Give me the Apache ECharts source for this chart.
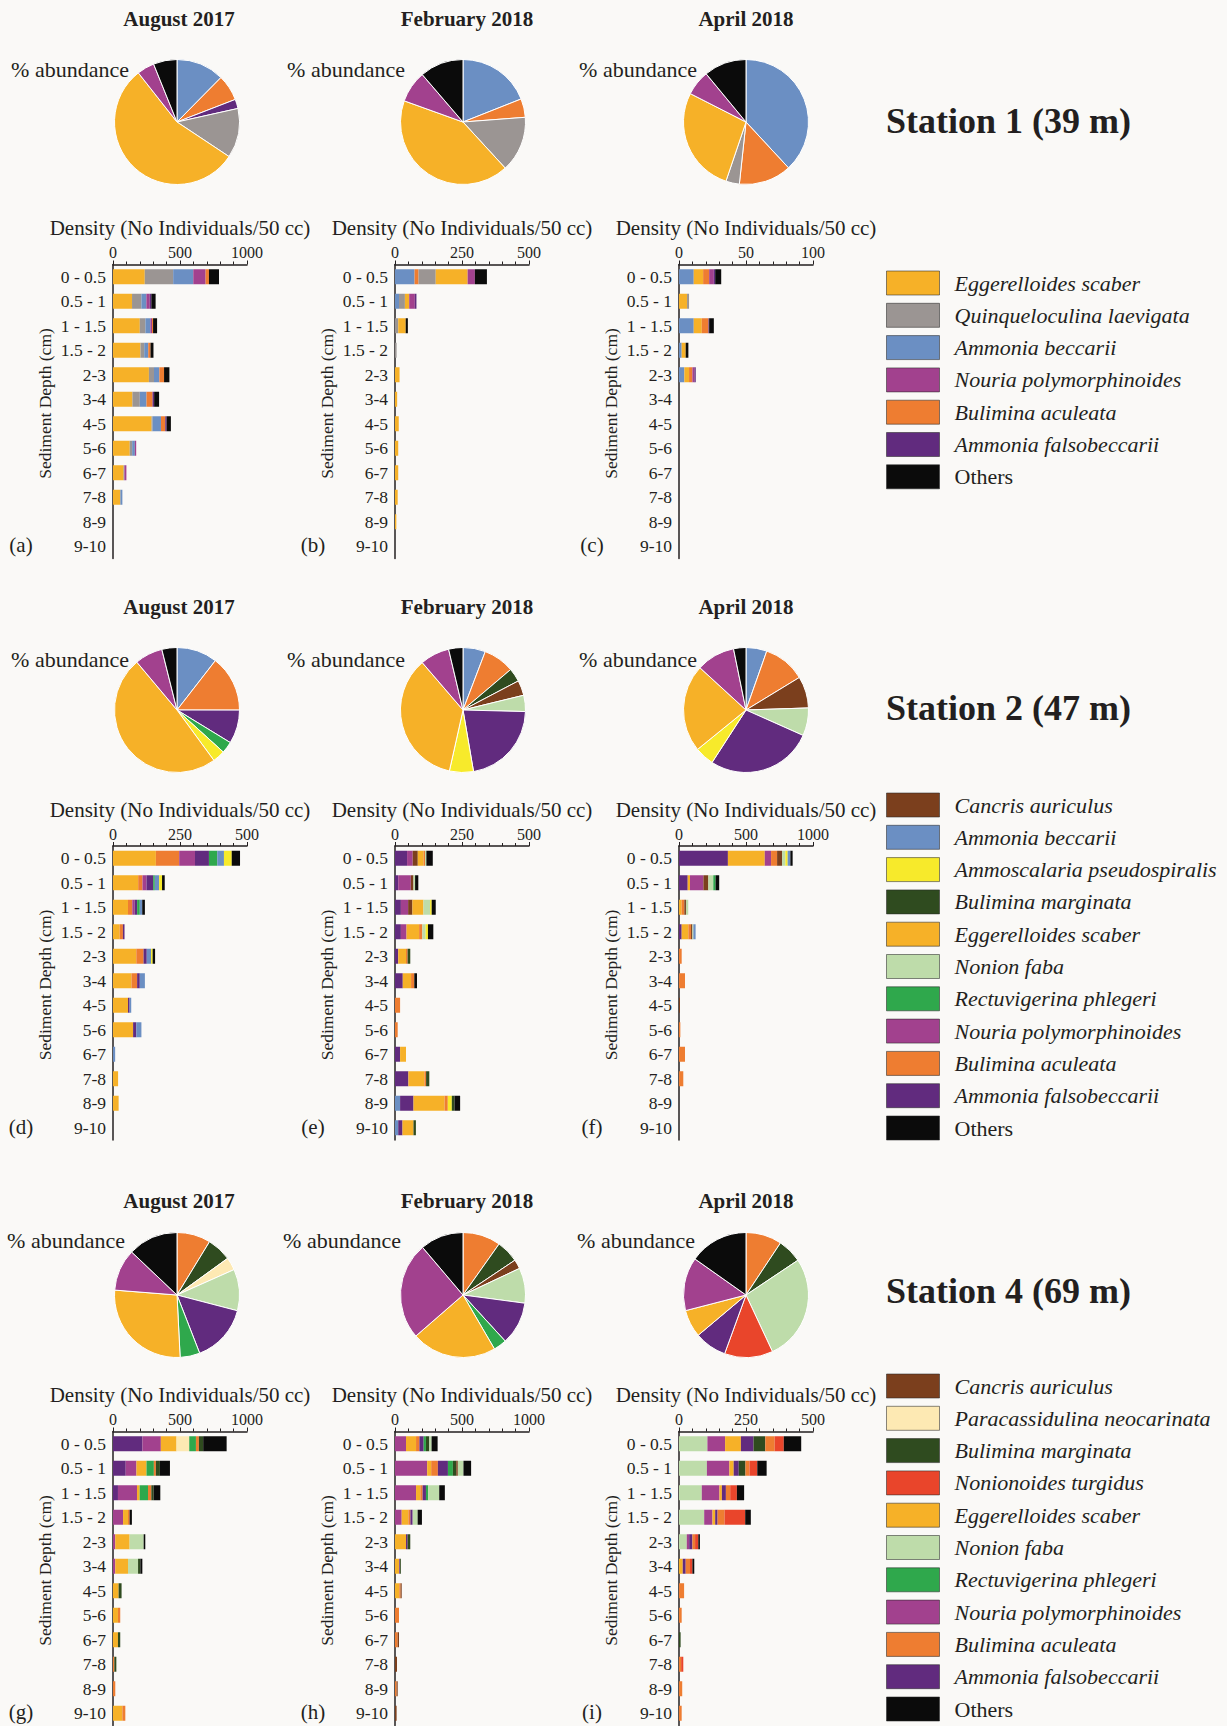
<!DOCTYPE html>
<html>
<head>
<meta charset="utf-8">
<script src="https://cdn.jsdelivr.net/npm/echarts@6/dist/echarts.min.js"></script>
<style>
html,body{margin:0;padding:0;background:#faf9f7;}
#chart{width:1227px;height:1726px;}
</style>
</head>
<body>
<div id="chart"></div>
<script>
// ---------- categories ----------
const depths = ['0 - 0.5','0.5 - 1','1 - 1.5','1.5 - 2','2-3','3-4','4-5','5-6','6-7','7-8','8-9','9-10'];
const months = ['August 2017','February 2018','April 2018'];
const stations = ['Station 1 (39 m)','Station 2 (47 m)','Station 4 (69 m)'];

// ---------- pie data (% abundance, clockwise from top) ----------
const pieA_names = ['Ammonia beccarii','Bulimina aculeata','Ammonia falsobeccarii','Quinqueloculina laevigata','Eggerelloides scaber','Nouria polymorphinoides','Others'];
const pieA_vals  = [12.4,6.7,2.4,12.8,55,4.5,6.1];
const pieB_names = ['Ammonia beccarii','Bulimina aculeata','Quinqueloculina laevigata','Eggerelloides scaber','Nouria polymorphinoides','Others'];
const pieB_vals  = [19,4.8,14.4,42.3,8.2,11.3];
const pieC_names = ['Ammonia beccarii','Bulimina aculeata','Quinqueloculina laevigata','Eggerelloides scaber','Nouria polymorphinoides','Others'];
const pieC_vals  = [38.1,13.6,3.5,27.3,6.5,11];
const pieD_names = ['Ammonia beccarii','Bulimina aculeata','Ammonia falsobeccarii','Rectuvigerina phlegeri','Ammoscalaria pseudospiralis','Eggerelloides scaber','Nouria polymorphinoides','Others'];
const pieD_vals  = [10.5,14.5,8.7,3,3.2,48.9,7.2,3.9];
const pieE_names = ['Ammonia beccarii','Bulimina aculeata','Bulimina marginata','Cancris auriculus','Nonion faba','Ammonia falsobeccarii','Ammoscalaria pseudospiralis','Eggerelloides scaber','Nouria polymorphinoides','Others'];
const pieE_vals  = [5.8,8,3.5,3.9,4.2,21.9,6.2,35.2,7.6,3.7];
const pieF_names = ['Ammonia beccarii','Bulimina aculeata','Cancris auriculus','Nonion faba','Ammonia falsobeccarii','Ammoscalaria pseudospiralis','Eggerelloides scaber','Nouria polymorphinoides','Others'];
const pieF_vals  = [5.4,10.9,8.2,7.2,27.5,5,22.7,10,3.2];
const pieG_names = ['Bulimina aculeata','Bulimina marginata','Paracassidulina neocarinata','Nonion faba','Ammonia falsobeccarii','Rectuvigerina phlegeri','Eggerelloides scaber','Nouria polymorphinoides','Others'];
const pieG_vals  = [8.7,6.3,3.3,10.7,15,5.1,27,10.8,12.9];
const pieH_names = ['Bulimina aculeata','Bulimina marginata','Cancris auriculus','Nonion faba','Ammonia falsobeccarii','Rectuvigerina phlegeri','Eggerelloides scaber','Nouria polymorphinoides','Others'];
const pieH_vals  = [9.8,5.8,2.4,9.1,11.1,3.4,22,25.2,11.2];
const pieI_names = ['Bulimina aculeata','Bulimina marginata','Nonion faba','Nonionoides turgidus','Ammonia falsobeccarii','Eggerelloides scaber','Nouria polymorphinoides','Others'];
const pieI_vals  = [9.3,6.3,27.4,12.5,8.3,7.1,13.8,15.2];

// ---------- bar data (No individuals / 50 cc), one value per depth ----------
// (a) Station 1, August 2017
const aEgg  = [237,142,200,205,268,145,288,125,80,55,0,0];
const aQuin = [212,70,42,28,38,55,8,18,0,0,0,0];
const aAbec = [150,37,37,30,40,50,62,20,5,15,0,0];
const aNour = [92,25,12,0,0,0,0,10,15,0,0,0];
const aBacu = [25,0,8,17,35,45,32,0,0,0,0,0];
const aAfal = [0,12,0,0,0,12,10,0,0,0,0,0];
const aOth  = [75,32,30,22,40,37,32,0,0,0,0,0];
// (b) Station 1, February 2018
const bAbec = [73,15,0,0,0,0,0,0,0,0,0,0];
const bBacu = [15,0,0,0,0,0,0,0,0,0,0,0];
const bQuin = [64,22,12,6,0,0,0,0,0,0,0,0];
const bEgg  = [119,16,28,0,17,8,14,12,12,10,5,0];
const bNour = [27,21,0,0,0,0,0,0,0,0,0,0];
const bAfal = [0,6,0,0,0,0,0,0,0,0,0,0];
const bOth  = [45,0,8,0,0,0,0,0,0,0,0,0];
// (c) Station 1, April 2018
const cAbec = [11,0,11,2,4,0,0,0,0,0,0,0];
const cEgg  = [7,6,6,3,3.5,0,0,0,0,0,0,0];
const cQuin = [0,1.5,0,0,0,0,0,0,0,0,0,0];
const cBacu = [4.5,0,5,0,2.5,0,0,0,0,0,0,0];
const cNour = [3.5,0,0,0,1.5,0,0,0,0,0,0,0];
const cAfal = [1,0,0.5,0,1,0,0,0,0,0,0,0];
const cOth  = [4.5,0,3.5,2,0,0,0,0,0,0,0,0];
// (d) Station 2, August 2017
const dEgg  = [160,94,56,25,87,69,56,75,0,19,21,0];
const dBacu = [87,16,16,12,27,21,0,0,0,0,0,0];
const dNour = [59,15,9,0,0,0,0,0,0,0,0,0];
const dAfal = [52,25,9,6,12,10,6,12,0,0,0,0];
const dRect = [31,6,10,0,0,0,0,0,0,0,0,0];
const dAbec = [25,16,9,0,16,19,6,19,8,0,0,0];
const dAmmo = [29,11,0,0,6,0,0,0,0,0,0,0];
const dOth  = [31,10,10,0,9,0,0,0,0,0,0,0];
// (e) Station 2, February 2018
const eAbec = [0,0,0,0,0,0,0,0,0,0,19,12];
const eAfal = [45,12,22,22,12,29,0,0,19,50,50,16];
const eNour = [21,47,27,21,0,0,0,0,0,0,0,0];
const eCanc = [19,10,16,0,0,0,0,0,0,0,0,0];
const eEgg  = [22,0,41,47,29,31,0,0,22,60,116,41];
const eBacu = [5,0,0,12,6,12,19,10,0,6,12,0];
const eNfab = [5,6,25,12,0,0,0,0,0,0,0,0];
const eAmmo = [0,0,6,9,0,0,0,0,0,0,15,0];
const eBmar = [0,0,0,0,10,0,0,0,0,12,10,9];
const eOth  = [24,12,15,20,0,10,0,0,0,0,21,0];
// (f) Station 2, April 2018
const fAfal = [365,65,0,20,0,0,0,0,0,0,0,0];
const fEgg  = [275,17,20,50,0,0,0,0,0,0,0,0];
const fNour = [47,100,0,0,0,0,0,0,0,0,0,0];
const fBacu = [45,0,20,20,20,45,0,10,45,32,0,0];
const fCanc = [37,37,12,10,0,0,7,0,0,0,0,0];
const fNfab = [25,37,17,7,0,0,0,0,0,0,0,0];
const fRect = [0,17,0,0,0,0,0,0,0,0,0,0];
const fAmmo = [17,0,0,0,0,0,0,0,0,0,0,0];
const fAbec = [20,0,0,17,0,0,0,0,0,0,0,0];
const fOth  = [17,27,0,0,0,0,0,0,0,0,0,0];
// (g) Station 4, August 2017
const gAfal = [220,95,37,0,0,0,0,0,0,0,0,0];
const gNour = [137,80,142,75,17,17,0,0,0,0,0,0];
const gEgg  = [117,75,20,37,107,95,42,37,37,0,0,70];
const gPara = [95,0,0,0,0,0,0,0,0,0,0,0];
const gNfab = [0,0,0,0,105,75,0,0,0,0,0,0];
const gRect = [50,55,62,0,0,0,0,0,0,0,0,0];
const gBacu = [22,15,25,12,0,0,0,17,0,10,17,22];
const gBmar = [32,30,17,0,0,17,22,0,17,15,0,0];
const gOth  = [175,75,50,17,12,15,0,0,0,0,0,0];
// (h) Station 4, February 2018
const hNour = [82,240,157,50,0,0,0,0,0,0,0,0];
const hEgg  = [75,30,32,50,82,32,32,0,0,0,0,0];
const hBacu = [25,50,17,15,0,0,10,30,20,0,12,0];
const hAfal = [32,75,25,17,12,6,0,0,0,0,0,0];
const hRect = [17,37,17,0,0,0,0,0,0,0,0,0];
const hBmar = [25,25,0,0,20,6,0,0,0,0,0,0];
const hCanc = [0,12,0,0,0,0,8,0,10,15,8,12];
const hNfab = [17,42,82,37,0,0,0,0,0,0,0,0];
const hOth  = [45,57,42,32,0,0,0,0,0,0,0,0];
// (i) Station 4, April 2018
const iNfab = [106,104,85,94,29,0,0,0,0,0,0,0];
const iNour = [66,84,66,31,9,0,0,0,0,0,0,0];
const iEgg  = [59,16,9,10,0,14,0,0,0,0,0,0];
const iAfal = [47,19,15,9,12,11,0,0,0,0,0,0];
const iBmar = [44,25,0,0,0,0,0,0,6,0,0,0];
const iBacu = [35,15,16,26,10,16,19,10,0,8,12,10];
const iNtur = [34,29,25,77,12,9,0,0,0,8,0,0];
const iOth  = [65,35,27,21,6,7,0,0,0,0,0,0];

// axis maxima per panel
const axisMax = [1000,500,100, 500,500,1000, 1000,1000,500];

// legend lists
const legend1 = ['Eggerelloides scaber','Quinqueloculina laevigata','Ammonia beccarii','Nouria polymorphinoides','Bulimina aculeata','Ammonia falsobeccarii','Others'];
const legend2 = ['Cancris auriculus','Ammonia beccarii','Ammoscalaria pseudospiralis','Bulimina marginata','Eggerelloides scaber','Nonion faba','Rectuvigerina phlegeri','Nouria polymorphinoides','Bulimina aculeata','Ammonia falsobeccarii','Others'];
const legend3 = ['Cancris auriculus','Paracassidulina neocarinata','Bulimina marginata','Nonionoides turgidus','Eggerelloides scaber','Nonion faba','Rectuvigerina phlegeri','Nouria polymorphinoides','Bulimina aculeata','Ammonia falsobeccarii','Others'];

// ---------- styles ----------
const COLORS = {
  'Eggerelloides scaber':'#f6b128',
  'Quinqueloculina laevigata':'#9b9593',
  'Ammonia beccarii':'#6b8fc3',
  'Nouria polymorphinoides':'#a2418e',
  'Bulimina aculeata':'#ee7d31',
  'Ammonia falsobeccarii':'#612b7e',
  'Others':'#0b0b0b',
  'Cancris auriculus':'#7b3f1d',
  'Ammoscalaria pseudospiralis':'#f7ea2b',
  'Bulimina marginata':'#2f4b1f',
  'Nonion faba':'#bedcaa',
  'Rectuvigerina phlegeri':'#2fa84c',
  'Paracassidulina neocarinata':'#fde9b3',
  'Nonionoides turgidus':'#e9452b'
};
const FONT = '"Liberation Serif","Times New Roman",serif';
const INK = '#231f20';

const panels = [
  [['Eggerelloides scaber',aEgg],['Quinqueloculina laevigata',aQuin],['Ammonia beccarii',aAbec],['Nouria polymorphinoides',aNour],['Bulimina aculeata',aBacu],['Ammonia falsobeccarii',aAfal],['Others',aOth]],
  [['Ammonia beccarii',bAbec],['Bulimina aculeata',bBacu],['Quinqueloculina laevigata',bQuin],['Eggerelloides scaber',bEgg],['Nouria polymorphinoides',bNour],['Ammonia falsobeccarii',bAfal],['Others',bOth]],
  [['Ammonia beccarii',cAbec],['Eggerelloides scaber',cEgg],['Quinqueloculina laevigata',cQuin],['Bulimina aculeata',cBacu],['Nouria polymorphinoides',cNour],['Ammonia falsobeccarii',cAfal],['Others',cOth]],
  [['Eggerelloides scaber',dEgg],['Bulimina aculeata',dBacu],['Nouria polymorphinoides',dNour],['Ammonia falsobeccarii',dAfal],['Rectuvigerina phlegeri',dRect],['Ammonia beccarii',dAbec],['Ammoscalaria pseudospiralis',dAmmo],['Others',dOth]],
  [['Ammonia beccarii',eAbec],['Ammonia falsobeccarii',eAfal],['Nouria polymorphinoides',eNour],['Cancris auriculus',eCanc],['Eggerelloides scaber',eEgg],['Bulimina aculeata',eBacu],['Nonion faba',eNfab],['Ammoscalaria pseudospiralis',eAmmo],['Bulimina marginata',eBmar],['Others',eOth]],
  [['Ammonia falsobeccarii',fAfal],['Eggerelloides scaber',fEgg],['Nouria polymorphinoides',fNour],['Bulimina aculeata',fBacu],['Cancris auriculus',fCanc],['Nonion faba',fNfab],['Rectuvigerina phlegeri',fRect],['Ammoscalaria pseudospiralis',fAmmo],['Ammonia beccarii',fAbec],['Others',fOth]],
  [['Ammonia falsobeccarii',gAfal],['Nouria polymorphinoides',gNour],['Eggerelloides scaber',gEgg],['Paracassidulina neocarinata',gPara],['Nonion faba',gNfab],['Rectuvigerina phlegeri',gRect],['Bulimina aculeata',gBacu],['Bulimina marginata',gBmar],['Others',gOth]],
  [['Nouria polymorphinoides',hNour],['Eggerelloides scaber',hEgg],['Bulimina aculeata',hBacu],['Ammonia falsobeccarii',hAfal],['Rectuvigerina phlegeri',hRect],['Bulimina marginata',hBmar],['Cancris auriculus',hCanc],['Nonion faba',hNfab],['Others',hOth]],
  [['Nonion faba',iNfab],['Nouria polymorphinoides',iNour],['Eggerelloides scaber',iEgg],['Ammonia falsobeccarii',iAfal],['Bulimina marginata',iBmar],['Bulimina aculeata',iBacu],['Nonionoides turgidus',iNtur],['Others',iOth]]
];
const pies = [
  [pieA_names,pieA_vals],[pieB_names,pieB_vals],[pieC_names,pieC_vals],
  [pieD_names,pieD_vals],[pieE_names,pieE_vals],[pieF_names,pieF_vals],
  [pieG_names,pieG_vals],[pieH_names,pieH_vals],[pieI_names,pieI_vals]
];

// ---------- layout ----------
const colLeft = [113, 395, 679];
const gridW = 134;
const rowTop = [264.5, 846, 1431.5];
const gridH = 294;
const pieCX = [177, 463, 746];
const pieCY = [122, 710, 1295];
const pieR = 62.5;
const monthY = [19, 607, 1201];
const monthX = [179, 467, 746];
const abundY = [69, 659, 1240];
const abundRight = [[129,405,697],[129,405,697],[125,401,695]];
const stationY = [121, 708, 1291];
const legendTop = [270.5, 792.5, 1373.5];
const panelLabelX = [21, 313, 592];
const panelLabelY = [545, 1127, 1712];
const letters = ['a','b','c','d','e','f','g','h','i'];

const grids = [], xAxes = [], yAxes = [], series = [], graphic = [];

for (let p = 0; p < 9; p++) {
  const r = Math.floor(p / 3), c = p % 3;
  grids.push({left: colLeft[c], top: rowTop[r], width: gridW, height: gridH, containLabel: false});
  xAxes.push({
    gridIndex: p, type: 'value', position: 'top', min: 0, max: axisMax[p], interval: axisMax[p] / 2,
    name: 'Density (No Individuals/50 cc)', nameLocation: 'middle', nameGap: 26,
    nameTextStyle: {fontFamily: FONT, fontSize: 21, color: INK},
    axisLine: {show: true, lineStyle: {color: INK, width: 1.5}},
    axisTick: {show: true, length: 4, lineStyle: {color: INK, width: 1}},
    minorTick: {show: true, splitNumber: 5, length: 3, lineStyle: {color: INK, width: 1}},
    splitLine: {show: false},
    axisLabel: {fontFamily: FONT, fontSize: 16, color: INK, margin: 4, formatter: v => String(v)}
  });
  yAxes.push({
    gridIndex: p, type: 'category', inverse: true, data: depths,
    name: 'Sediment Depth (cm)', nameLocation: 'middle', nameGap: 59,
    nameTextStyle: {fontFamily: FONT, fontSize: 17.5, color: INK, padding: [0, 0, 0, 16]},
    axisLine: {show: true, lineStyle: {color: INK, width: 1.5}},
    axisTick: {show: false},
    axisLabel: {fontFamily: FONT, fontSize: 17.5, color: INK, margin: 7},
    splitLine: {show: false}
  });
  panels[p].forEach(([name, vals]) => {
    series.push({
      type: 'bar', name: name, xAxisIndex: p, yAxisIndex: p, stack: 'panel' + p,
      data: vals, barWidth: 15, silent: true,
      itemStyle: {color: COLORS[name]}
    });
  });
  const [pn, pv] = pies[p];
  series.push({
    type: 'pie', name: 'pie' + p, center: [pieCX[c], pieCY[r]], radius: pieR,
    startAngle: 90, clockwise: true, silent: true, label: {show: false}, labelLine: {show: false},
    itemStyle: {borderColor: '#ffffff', borderWidth: 1},
    data: pn.map((n, k) => ({name: n, value: pv[k], itemStyle: {color: COLORS[n]}}))
  });
  graphic.push({type: 'text', x: panelLabelX[c], y: panelLabelY[r],
    style: {text: '(' + letters[p] + ')', fontFamily: FONT, fontSize: 21, fill: INK, align: 'center', verticalAlign: 'middle'}});
  graphic.push({type: 'text', x: monthX[c], y: monthY[r],
    style: {text: months[c], fontFamily: FONT, fontSize: 21, fontWeight: 'bold', fill: INK, align: 'center', verticalAlign: 'middle'}});
  graphic.push({type: 'text', x: abundRight[r][c], y: abundY[r],
    style: {text: '% abundance', fontFamily: FONT, fontSize: 22, fill: INK, align: 'right', verticalAlign: 'middle'}});
}
for (let r = 0; r < 3; r++) {
  graphic.push({type: 'text', x: 886, y: stationY[r],
    style: {text: stations[r], fontFamily: FONT, fontSize: 36, fontWeight: 'bold', fill: INK, align: 'left', verticalAlign: 'middle'}});
}

function makeLegend(list, top) {
  return {
    data: list, orient: 'vertical', left: 886, top: top, height: 400, padding: 0,
    itemWidth: 53, itemHeight: 24, itemGap: 7.3, icon: 'rect', selectedMode: false,
    itemStyle: {borderColor: 'rgba(40,40,40,0.55)', borderWidth: 1},
    formatter: n => n === 'Others' ? '{n|Others}' : '{i|' + n + '}',
    textStyle: {
      rich: {
        i: {fontFamily: FONT, fontSize: 22, lineHeight: 24, fontStyle: 'italic', color: INK, padding: [0, 0, 0, 10]},
        n: {fontFamily: FONT, fontSize: 22, lineHeight: 24, color: INK, padding: [0, 0, 0, 10]}
      }
    }
  };
}

const chart = echarts.init(document.getElementById('chart'), null, {renderer: 'svg', width: 1227, height: 1726});
chart.setOption({
  backgroundColor: '#faf9f7',
  animation: false,
  textStyle: {fontFamily: FONT},
  grid: grids,
  xAxis: xAxes,
  yAxis: yAxes,
  legend: [makeLegend(legend1, legendTop[0]), makeLegend(legend2, legendTop[1]), makeLegend(legend3, legendTop[2])],
  series: series,
  graphic: graphic
});
</script>
</body>
</html>
